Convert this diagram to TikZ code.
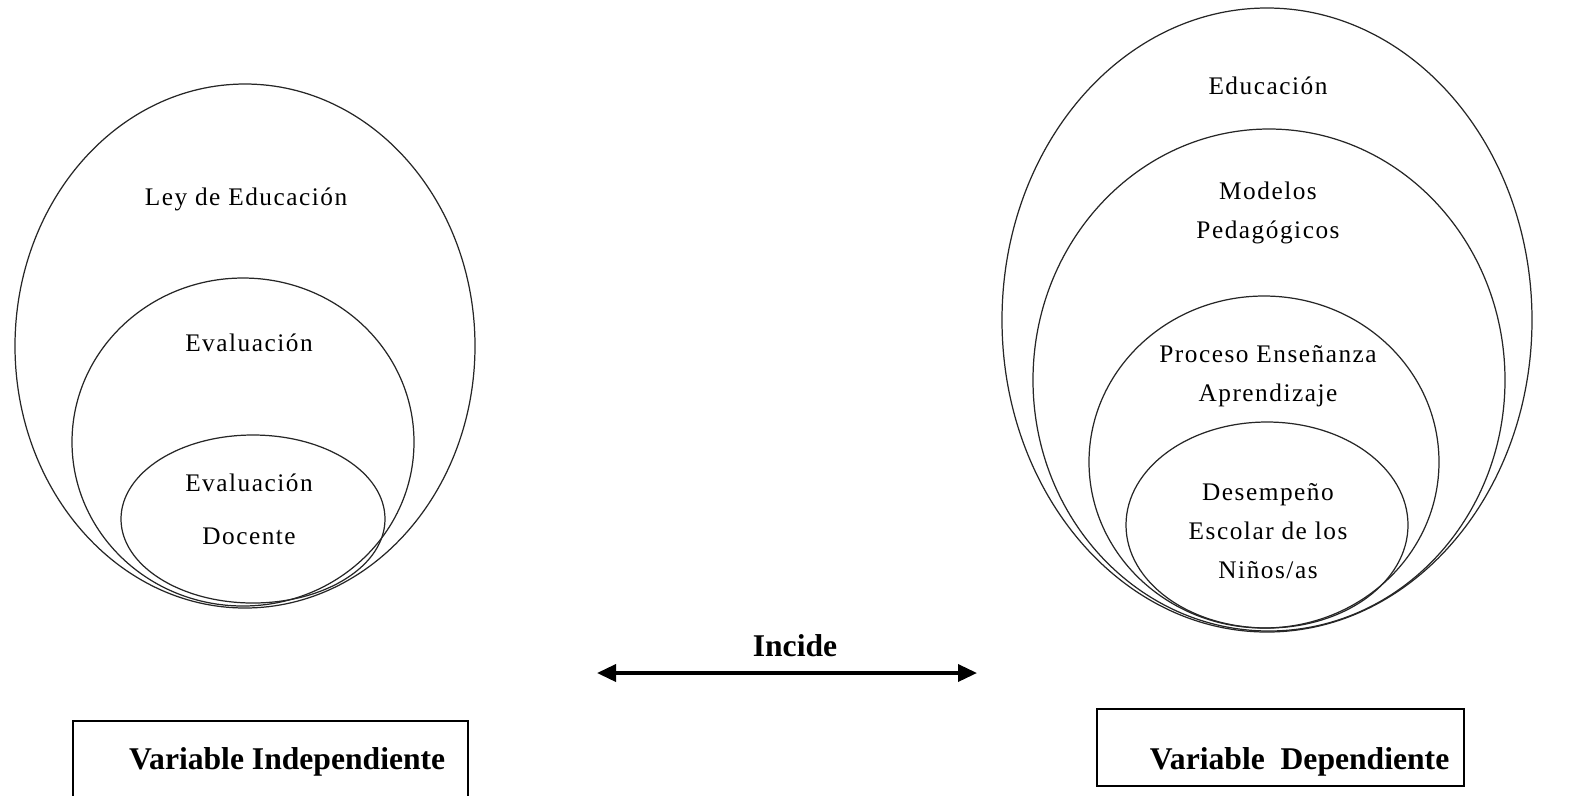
\documentclass[tikz,border=0pt]{standalone}
\usepackage{fontspec}
\setmainfont{Liberation Serif}
\newfontfamily\spaced[LetterSpace=6]{Liberation Serif}
\usetikzlibrary{arrows.meta}
\tikzset{
  ring/.style={line width=0.35pt, draw=black!85},
  ringtext/.style={font=\spaced\fontsize{7.2}{11}\selectfont, align=center, inner sep=0pt},
  varbox/.style={draw, line width=0.6pt},
  vartext/.style={font=\bfseries\fontsize{9}{11}\selectfont, inner sep=0pt}
}
\begin{document}
\begin{tikzpicture}[x=0.1mm,y=-0.1mm]
\useasboundingbox (0,0) rectangle (1583,795);
\clip (0,0) rectangle (1583,795);
% left: independent variable
\def\leyring{(245,346) ellipse [x radius=23mm, y radius=26.2mm]}
\def\evalring{(243,442) ellipse [x radius=17.1mm, y radius=16.4mm]}
\def\docring{(253,519) ellipse [x radius=13.2mm, y radius=8.4mm]}
\draw[ring] \leyring;
\draw[ring] \evalring;
\draw[ring] \docring;
\node[ringtext] (ley) at (246,199) {Ley de Educación};
\node[ringtext] (eval) at (249,343) {Evaluación};
\node[ringtext] (doc) at (249,509) {Evaluación\\[4pt]Docente};
% right: dependent variable
\def\edring{(1267,320) ellipse [x radius=26.5mm, y radius=31.2mm]}
\def\modring{(1269,380) ellipse [x radius=23.6mm, y radius=25.1mm]}
\def\procring{(1264,462) ellipse [x radius=17.5mm, y radius=16.6mm]}
\def\desring{(1267,525) ellipse [x radius=14.1mm, y radius=10.3mm]}
\draw[ring] \edring;
\draw[ring] \modring;
\draw[ring] \procring;
\draw[ring] \desring;
\node[ringtext] (edu) at (1268,86) {Educación};
\node[ringtext] (mod) at (1268,213) {Modelos\\Pedagógicos};
\node[ringtext] (proc) at (1268,376) {Proceso Enseñanza\\Aprendizaje};
\node[ringtext] (des) at (1268,531) {Desempeño\\Escolar de los\\Niños/as};
% relation
\coordinate (incl) at (597,673);
\coordinate (incr) at (977,673);
\draw[line width=1pt, {Triangle[length=1.9mm,width=1.7mm]}-{Triangle[length=1.9mm,width=1.7mm]}] (incl) -- (incr);
\node[vartext] (incide) at (795,646) {Incide};
% boxes
\draw[varbox] (73,721) rectangle (468,840);
\node[vartext, anchor=east] (indep) at (446,762) {Variable Independiente};
\draw[varbox] (1097,709) rectangle (1464,786);
\node[vartext, anchor=east] (dep) at (1450,762) {Variable\ \ Dependiente};
\end{tikzpicture}
\end{document}
